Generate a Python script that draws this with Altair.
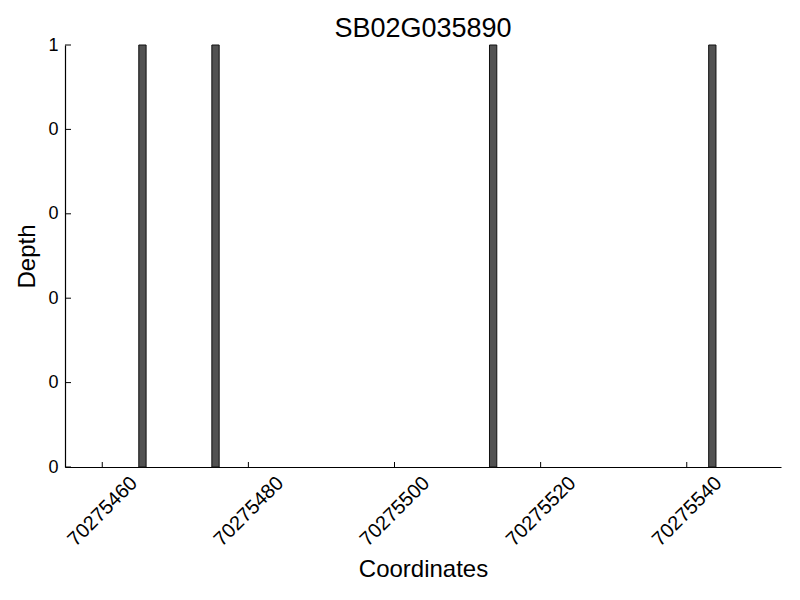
import altair as alt
import pandas as pd

title = "SB02G035890"
positions = [70275465, 70275475, 70275513, 70275543]
depths = [1, 1, 1, 1]
x_ticks = [70275460, 70275480, 70275500, 70275520, 70275540]
y_ticks = [0, 0.2, 0.4, 0.6, 0.8, 1.0]
x_domain = [70275454.9, 70275552.9]

FONT = "Liberation Sans"
W, H = 716, 422

bars_df = pd.DataFrame({"start": positions, "depth": depths})
bars_df["end"] = bars_df["start"] + 1
bars_df["base"] = 0
xt_df = pd.DataFrame({"pos": x_ticks})
yt_df = pd.DataFrame({"val": y_ticks})

xscale = alt.Scale(domain=x_domain, nice=False, zero=False)
yscale = alt.Scale(domain=[0, 1], nice=False)

bars = alt.Chart(bars_df).mark_rect(
    color="#525252", stroke="#111111", strokeWidth=1
).encode(
    x=alt.X("start:Q", scale=xscale,
            axis=alt.Axis(values=x_ticks, format="d", title="Coordinates",
                          labelAngle=-45, labelAlign="center", labelBaseline="middle",
                          labelFontSize=20, titleFontSize=24, titleFont=FONT,
                          labelFont=FONT, labelColor="black", titleColor="black",
                          ticks=False, tickSize=0, domainColor="black", domainWidth=1.2,
                          grid=False, labelPadding=44, titlePadding=8,
                          labelFlush=False, labelOverlap=False,
                          titleFontWeight="normal")),
    x2="end:Q",
    y=alt.Y("depth:Q", scale=yscale,
            axis=alt.Axis(values=y_ticks, title="Depth",
                          labelExpr="floor(datum.value)",
                          labelFontSize=18, titleFontSize=24, titleFont=FONT,
                          labelFont=FONT, labelColor="black", titleColor="black",
                          ticks=False, tickSize=0, domainColor="black", domainWidth=1.2,
                          grid=False, labelPadding=7, titlePadding=8,
                          labelFlush=False, labelOverlap=False,
                          titleFontWeight="normal")),
    y2="base:Q",
)

xticks = alt.Chart(xt_df).mark_rule(color="black", strokeWidth=1).encode(
    x=alt.X("pos:Q", scale=xscale),
    y=alt.value(H),
    y2=alt.value(H - 5),
)

yticks = alt.Chart(yt_df).mark_rule(color="black", strokeWidth=1).encode(
    y=alt.Y("val:Q", scale=yscale),
    x=alt.value(0),
    x2=alt.value(6),
)

chart = alt.layer(bars, xticks, yticks).properties(
    width=W, height=H,
    title=alt.TitleParams(title, fontSize=27, font=FONT, fontWeight="normal",
                          color="black", anchor="middle", offset=-7),
    autosize=alt.AutoSizeParams(type="none"),
    padding={"left": 57, "top": 37, "right": 11, "bottom": 125},
).configure_view(stroke=None)

chart.save("out.html", embed_options={"renderer": "svg", "actions": False})
